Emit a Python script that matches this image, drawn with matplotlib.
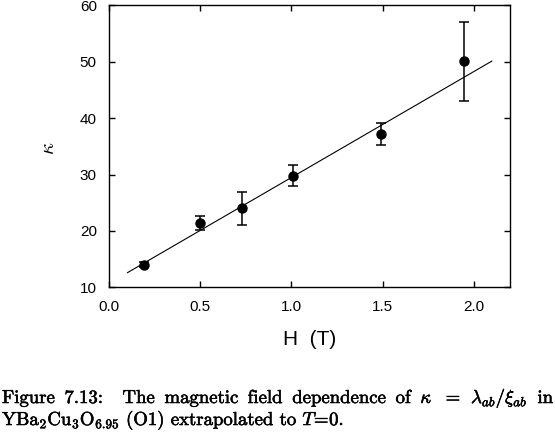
import matplotlib
matplotlib.use("Agg")
import matplotlib.pyplot as plt
import matplotlib.patheffects as pe

# ---- data ----
H = [0.19, 0.50, 0.73, 1.01, 1.49, 1.95]
kappa = [14.0, 21.4, 24.0, 29.8, 37.2, 50.1]
kappa_err = [0.4, 1.2, 2.9, 1.8, 1.95, 7.0]
fit_H = [0.10, 2.10]
fit_kappa = [12.6, 50.1]
xticks = [0.0, 0.5, 1.0, 1.5, 2.0]
yticks = [10, 20, 30, 40, 50, 60]
xticklabels = ["0.0", "0.5", "1.0", "1.5", "2.0"]
yticklabels = ["10", "20", "30", "40", "50", "60"]

W, Hpx = 555, 433
fig = plt.figure(figsize=(W / 100, Hpx / 100), dpi=100)
plt.rcParams['mathtext.fontset'] = 'cm'
ax = fig.add_axes([109.3 / W, 1 - 287.3 / Hpx, (510 - 109.3) / W, (287.3 - 5.3) / Hpx])

ax.plot(fit_H, fit_kappa, color='black', lw=0.8)
ax.errorbar(H, kappa, yerr=kappa_err, fmt='o', color='black', ms=6.5,
            elinewidth=1.1, capsize=3.3, capthick=1.1)

ax.set_xlim(0, 2.2)
ax.set_ylim(10, 60)
ax.set_xticks(xticks)
ax.set_xticklabels(xticklabels)
ax.set_yticks(yticks)
ax.set_yticklabels(yticklabels)
ax.tick_params(direction='in', length=4.5, width=1.0, top=True, right=True,
               labelsize=11, pad=9)
for lab in ax.get_xticklabels() + ax.get_yticklabels():
    lab.set_family('Liberation Sans')
for s in ax.spines.values():
    s.set_linewidth(1.0)

ax.set_xlabel("H  (T)", family='Liberation Sans', fontsize=15, labelpad=12)
fig.text(48 / W, 1 - 148 / Hpx, r"$\kappa$", rotation=90, fontsize=15,
         ha='center', va='center')

# ---- caption ----
cap_fs = 13.5
effects = [pe.withStroke(linewidth=0.4, foreground='black')]
line1 = ["Figure", "7.13:", "The", "magnetic", "field", "dependence", "of",
         r"$\kappa$", r"$=$", r"$\lambda_{ab}/\xi_{ab}$", "in"]
gap_weights = [1, 2, 1, 1, 1, 1, 1, 1, 1, 1]
line2 = r"YBa$_2$Cu$_3$O$_{6.95}$ (O1) extrapolated to $T\!=\!0$."

y1 = 1 - 403 / Hpx
y2 = 1 - 425 / Hpx
texts = []
for w in line1:
    t = fig.text(0, y1, w, family='cmr10', fontsize=cap_fs, ha='left',
                 va='baseline', path_effects=effects)
    texts.append(t)
fig.text(2 / W, y2, line2, family='cmr10', fontsize=cap_fs, ha='left',
         va='baseline', path_effects=effects)

fig.canvas.draw()
r = fig.canvas.get_renderer()
widths = [t.get_window_extent(r).width for t in texts]
x0, x1 = 2.0, 553.0
total_gap = (x1 - x0) - sum(widths)
unit = total_gap / sum(gap_weights)
x = x0
for i, t in enumerate(texts):
    t.set_x(x / W)
    x += widths[i]
    if i < len(gap_weights):
        x += unit * gap_weights[i]

fig.savefig("out.png", dpi=100)
